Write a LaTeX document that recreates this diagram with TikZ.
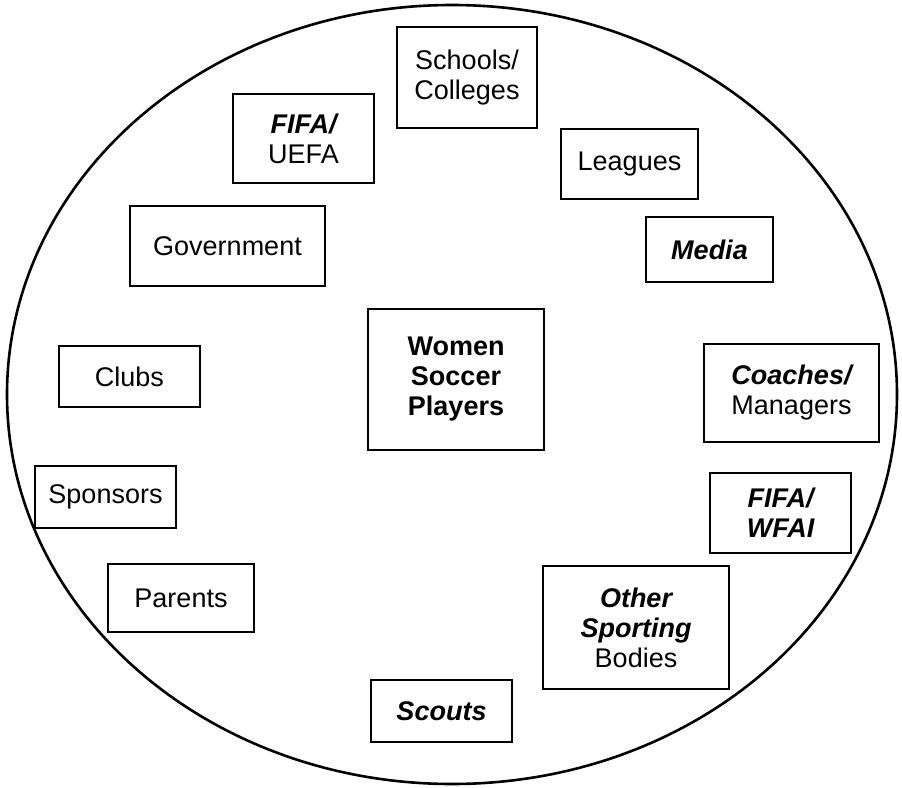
\documentclass[tikz,border=0pt]{standalone}
\usepackage{fontspec}
\setmainfont{Liberation Sans}
\begin{document}
\begin{tikzpicture}[x=1pt,y=-1pt,
  every node/.style={font=\fontsize{27}{30}\selectfont},
  box/.style={draw, line width=2.4pt, align=center, inner sep=0pt},
  rim/.style={line width=2.6pt}]
\useasboundingbox (0,0) rectangle (902,787);
% surrounding ellipse
\draw[rim] (452,394.5) ellipse [x radius=445pt, y radius=389.5pt];
% central actor
\node[box, minimum width=176pt, minimum height=141pt] (players) at (456,379.5)
  {\bfseries Women\\\bfseries Soccer\\\bfseries Players};
% stakeholders around it
\node[box, minimum width=140pt, minimum height=101pt] (schools) at (467,77.5) {Schools/\\Colleges};
\node[box, minimum width=141pt, minimum height=89pt] (fifauefa) at (303.5,138.5) {\bfseries\itshape FIFA/\\UEFA};
\node[box, minimum width=195pt, minimum height=80pt] (gov) at (227.5,246) {Government};
\node[box, minimum width=137pt, minimum height=70pt] (leagues) at (629.5,164) {Leagues};
\node[box, minimum width=127pt, minimum height=65pt] (media) at (709.5,249.5) {\bfseries\itshape Media};
\node[box, minimum width=175pt, minimum height=98pt] (coaches) at (791.5,393) {\bfseries\itshape Coaches/\\Managers};
\node[box, minimum width=141pt, minimum height=80pt] (fifawfai) at (780.5,513) {\bfseries\itshape FIFA/\\\bfseries\itshape WFAI};
\node[box, minimum width=141pt, minimum height=61pt] (clubs) at (129.5,376.5) {Clubs};
\node[box, minimum width=141pt, minimum height=62pt] (sponsors) at (105.5,497) {Sponsors};
\node[box, minimum width=146pt, minimum height=68pt] (parents) at (181,598) {Parents};
\node[box, minimum width=141pt, minimum height=62pt] (scouts) at (441.5,711) {\bfseries\itshape Scouts};
\node[box, minimum width=186pt, minimum height=123pt] (other) at (636,627.5)
  {\bfseries\itshape Other\\\bfseries\itshape Sporting\\Bodies};
\end{tikzpicture}
\end{document}
